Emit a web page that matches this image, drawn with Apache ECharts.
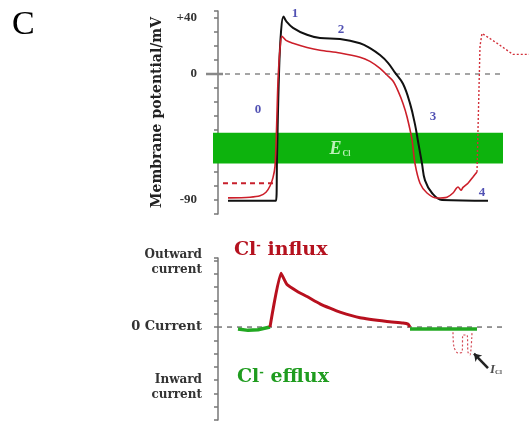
<!DOCTYPE html>
<html><head><meta charset="utf-8">
<script src="https://cdn.jsdelivr.net/npm/echarts@6/dist/echarts.min.js"></script>
<style>html,body{margin:0;padding:0;background:#fff}#c{width:529px;height:421px}</style>
</head><body><div id="c"></div>
<script>
// ---- Top panel: membrane potential (time in arbitrary units, mV) ----
const blackT = [10, 58, 59, 61, 63, 65.5, 68, 75, 89, 102, 122, 142, 152, 162, 170, 177, 185, 192, 197, 200, 204, 207, 214, 224, 270];
const blackV = [-90.5, -90.5, -60, 0, 30, 41, 38, 33, 28, 25.7, 25, 22, 18.5, 13.5, 8, 1, -7, -21, -36, -48, -64, -76, -85, -90, -90.5];
const redT = [10, 32, 42, 48, 52, 55, 57, 58.5, 60, 62, 64, 68, 75, 89, 102, 122, 142, 152, 162, 169, 175, 180, 185, 189, 194, 197, 202, 209, 219, 229, 235, 238, 240, 243, 245, 250, 255, 259];
const redV = [-88.5, -88, -87, -84.5, -80, -74, -66, -40, -5, 18, 27, 24, 22, 19, 17, 15, 12, 9, 4, -0.7, -5, -12, -21, -30.5, -47, -64, -78, -85, -88.6, -88, -85, -82, -80.7, -83, -81, -78, -73.6, -70];
const redDotT = [259, 262, 264, 279, 295, 311];
const redDotV = [-70, 20, 29, 22, 14, 14];
const restT = [5, 55];
const restV = [-78, -78];
const ecl = { t: [-5, 285], v: [-42, -64] };
const phaseNames = ['0', '1', '2', '3', '4'];
const phaseT = [40, 77, 123, 215, 264];
const phaseV = [-25.7, 42.9, 31.4, -30.7, -85];
const potTicks = { 40: '+40', 0: '0', '-90': '-90' };

// ---- Bottom panel: Cl- current (arbitrary units) ----
const curT = [52, 63, 69, 79, 89, 102, 112, 122, 142, 169, 185, 190, 192];
const curV = [0, 4.05, 3.2, 2.7, 2.3, 1.75, 1.42, 1.12, 0.7, 0.42, 0.3, 0.22, 0];
const effluxLT = [20, 30, 40, 52];
const effluxLV = [-0.15, -0.25, -0.2, 0];
const effluxRT = [192, 259];
const effluxRV = [-0.15, -0.15];
const iclT = [235, 236, 240, 244, 245, 249, 250, 252, 254];
const iclV = [-0.4, -1.5, -1.95, -1.9, -0.6, -0.6, -1.9, -2.1, -0.45];
const arrowFrom = [270, -3.1], arrowTo = [256, -2.0];
const iclLabelPos = [272, -3.2];

const zip = (a, b) => a.map((x, i) => [x, b[i]]);
const serif = '"DejaVu Serif", serif';
const tserif = '"Liberation Serif", "Times New Roman", serif';

const chart = echarts.init(document.getElementById('c'), null, { renderer: 'canvas' });
chart.setOption({
  animation: false,
  backgroundColor: '#fff',
  grid: [
    { left: 203, right: 0, top: 11, height: 203 },
    { left: 203, right: 0, top: 258, height: 162 }
  ],
  xAxis: [
    { type: 'value', gridIndex: 0, min: -15, max: 311, show: false },
    { type: 'value', gridIndex: 1, min: -15, max: 311, show: false }
  ],
  yAxis: [
    {
      type: 'value', gridIndex: 0, min: -100, max: 45, interval: 10,
      name: 'Membrane potential/mV', nameLocation: 'middle', nameRotate: 90, nameGap: 39,
      nameTextStyle: { fontFamily: serif, fontWeight: 'bold', fontSize: 14, color: '#222' },
      axisLine: { show: true, onZero: true, lineStyle: { color: '#777', width: 1.5 } },
      axisTick: { show: true, length: 4, lineStyle: { color: '#777', width: 1.5 } },
      splitLine: { show: false },
      axisLabel: { margin: 6, fontFamily: tserif, fontWeight: 'bold', fontSize: 13, color: '#333',
        formatter: v => potTicks[v] || '' }
    },
    {
      type: 'value', gridIndex: 1, min: -7, max: 5.2, interval: 1,
      axisLine: { show: true, onZero: true, lineStyle: { color: '#777', width: 1.5 } },
      axisTick: { show: true, length: 4, lineStyle: { color: '#777', width: 1.5 } },
      splitLine: { show: false },
      axisLabel: { margin: 1, fontFamily: serif, fontWeight: 'bold', fontSize: 13, color: '#333',
        formatter: v => (v === 0 ? '0 Current' : '') }
    }
  ],
  graphic: [
    { type: 'text', x: 12, y: 8, style: { text: 'C', font: '34px "Liberation Serif", serif', fill: '#000' } },
    { type: 'text', x: 202, y: 247, style: { text: 'Outward\ncurrent', align: 'right', verticalAlign: 'top', font: 'bold 12px "DejaVu Serif", serif', fill: '#333', lineHeight: 15 } },
    { type: 'text', x: 202, y: 372, style: { text: 'Inward\ncurrent', align: 'right', verticalAlign: 'top', font: 'bold 12px "DejaVu Serif", serif', fill: '#333', lineHeight: 15 } },
    { type: 'text', x: 234, y: 241, style: {
        text: '{a|Cl}{b|-}{a| influx}',
        rich: { a: { font: 'bold 19px "DejaVu Serif", serif', fill: '#b5121f' },
                b: { font: 'bold 11px "DejaVu Serif", serif', fill: '#b5121f', verticalAlign: 'top' } } } },
    { type: 'text', x: 237, y: 368, style: {
        text: '{a|Cl}{b|-}{a| efflux}',
        rich: { a: { font: 'bold 19px "DejaVu Serif", serif', fill: '#1f9c1f' },
                b: { font: 'bold 11px "DejaVu Serif", serif', fill: '#1f9c1f', verticalAlign: 'top' } } } }
  ],
  series: [
    // E_Cl band (drawn over the traces, as in the figure)
    {
      type: 'line', xAxisIndex: 0, yAxisIndex: 0, data: [], silent: true, z: 1,
      markArea: { silent: true, itemStyle: { color: '#0db30d', opacity: 1 },
        data: [[{ xAxis: ecl.t[0], yAxis: ecl.v[0] }, { xAxis: ecl.t[1], yAxis: ecl.v[1] }]] }
    },
    { type: 'line', xAxisIndex: 0, yAxisIndex: 0, data: [[7, 0], [287, 0]], symbol: 'none', z: 2,
      lineStyle: { color: '#888', width: 1.5, type: [5, 5] } },
    { type: 'line', xAxisIndex: 0, yAxisIndex: 0, data: [[-12, 0], [5, 0]], symbol: 'none', z: 2,
      lineStyle: { color: '#888', width: 2.5 } },
    { type: 'line', xAxisIndex: 0, yAxisIndex: 0, data: zip(restT, restV), symbol: 'none', z: 3,
      lineStyle: { color: '#c8202c', width: 2, type: [5, 4] } },
    { type: 'line', xAxisIndex: 0, yAxisIndex: 0, data: zip(blackT, blackV), symbol: 'none', smooth: 0.4, z: 4,
      lineStyle: { color: '#111', width: 2 } },
    { type: 'line', xAxisIndex: 0, yAxisIndex: 0, data: zip(redT, redV), symbol: 'none', smooth: 0.3, z: 5,
      lineStyle: { color: '#cc1f2a', width: 1.6 } },
    { type: 'line', xAxisIndex: 0, yAxisIndex: 0, data: zip(redDotT, redDotV), symbol: 'none', z: 5,
      lineStyle: { color: '#d2303a', width: 1.4, type: [2, 2] } },
    // phase labels and E_Cl label
    { type: 'scatter', xAxisIndex: 0, yAxisIndex: 0, symbolSize: 0, z: 6,
      data: phaseT.map((t, i) => ({ name: phaseNames[i], value: [t, phaseV[i]] })),
      label: { show: true, position: 'inside', formatter: p => p.name,
        fontFamily: tserif, fontWeight: 'bold', fontSize: 13, color: '#2626a0' } },
    { type: 'scatter', xAxisIndex: 0, yAxisIndex: 0, symbolSize: 0, z: 6,
      data: [[122, -53.5]],
      label: { show: true, position: 'inside', formatter: '{e|E}{s|Cl}',
        rich: { e: { fontFamily: tserif, fontStyle: 'italic', fontWeight: 'bold', fontSize: 18, color: '#eaffe6' },
                s: { fontFamily: tserif, fontWeight: 'bold', fontSize: 8, color: '#eaffe6', verticalAlign: 'bottom', padding: [8, 0, 0, 1] } } } },

    // Bottom panel
    { type: 'line', xAxisIndex: 1, yAxisIndex: 1, data: [[-1, 0], [287, 0]], symbol: 'none', z: 2,
      lineStyle: { color: '#777', width: 1.5, type: [5, 5] } },
    { type: 'line', xAxisIndex: 1, yAxisIndex: 1, data: zip(curT, curV), symbol: 'none', smooth: 0.15, z: 4,
      lineStyle: { color: '#b8101e', width: 3 } },
    { type: 'line', xAxisIndex: 1, yAxisIndex: 1, data: zip(effluxLT, effluxLV), symbol: 'none', z: 3,
      lineStyle: { color: '#22a822', width: 3.5 } },
    { type: 'line', xAxisIndex: 1, yAxisIndex: 1, data: zip(effluxRT, effluxRV), symbol: 'none', z: 3,
      lineStyle: { color: '#22a822', width: 3.5 } },
    { type: 'line', xAxisIndex: 1, yAxisIndex: 1, data: zip(iclT, iclV), symbol: 'none', smooth: 0.3, z: 4,
      lineStyle: { color: '#d44a55', width: 1.2, type: [2, 2] },
      markLine: { silent: true, symbol: ['none', 'arrow'], symbolSize: 7, label: { show: false },
        lineStyle: { color: '#222', width: 2.5, type: 'solid' },
        data: [[{ coord: arrowFrom }, { coord: arrowTo }]] } },
    { type: 'scatter', xAxisIndex: 1, yAxisIndex: 1, symbolSize: 0, z: 6,
      data: [iclLabelPos],
      label: { show: true, position: 'right', distance: 0, formatter: '{e|I}{s|Cl}',
        rich: { e: { fontFamily: tserif, fontStyle: 'italic', fontWeight: 'bold', fontSize: 13, color: '#222' },
                s: { fontFamily: tserif, fontWeight: 'bold', fontSize: 7, color: '#222', verticalAlign: 'bottom', padding: [6, 0, 0, 0] } } } }
  ]
});
</script>
</body></html>
